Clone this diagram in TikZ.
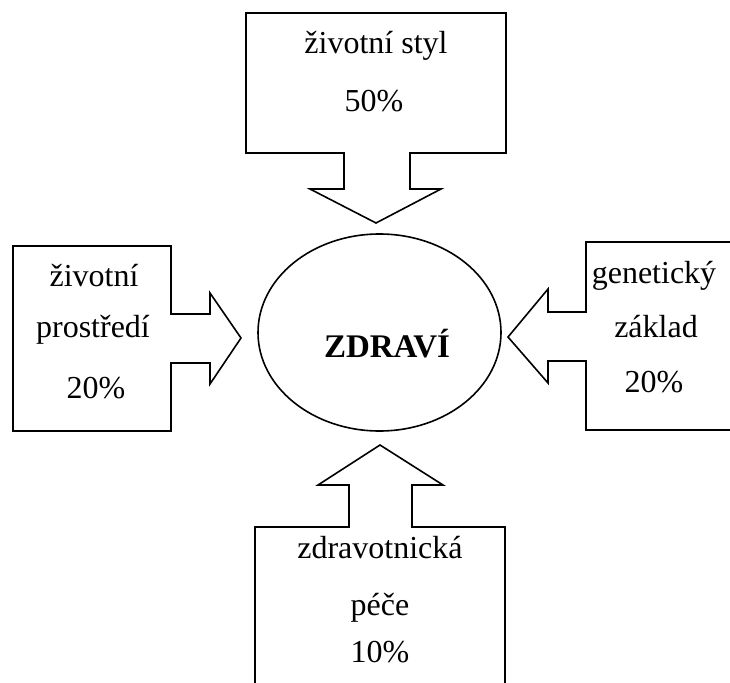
\documentclass[tikz,border=0pt]{standalone}
\usepackage{fontspec}
\setmainfont{Liberation Serif}
\begin{document}
\begin{tikzpicture}[x=1pt,y=-1pt,
  shapeline/.style={draw=black,line width=1.6pt,line join=miter},
  lbl/.style={font=\fontsize{32}{38}\selectfont,anchor=base,inner sep=0pt},
  ttl/.style={font=\fontsize{33}{39}\selectfont\bfseries,anchor=base,inner sep=0pt}]
\useasboundingbox (0,0) rectangle (730,682);
\clip (0,0) rectangle (730,682);
\fill[white] (0,0) rectangle (730,682);
% top callout
\draw[shapeline] (246,13) -- (506,13) -- (506,153) -- (410,153) -- (410,189) -- (441,189) -- (376,223) -- (310,189) -- (344,189) -- (344,153) -- (246,153) -- cycle;
% left callout
\draw[shapeline] (13,246) -- (171,246) -- (171,314) -- (210,314) -- (210,293) -- (241,338) -- (210,384) -- (210,363) -- (171,363) -- (171,431) -- (13,431) -- cycle;
% right callout
\draw[shapeline] (745,242) -- (586,242) -- (586,312) -- (548,312) -- (548,289) -- (508,337) -- (548,383) -- (548,361) -- (586,361) -- (586,430) -- (745,430);
% bottom callout
\draw[shapeline] (255,700) -- (255,527) -- (349,527) -- (349,485) -- (318,485) -- (380,445) -- (443,485) -- (412,485) -- (412,527) -- (505,527) -- (505,700);
% ellipse
\draw[shapeline] (379.5,332.5) ellipse [x radius=121.5, y radius=98.5];
% texts
\node[ttl] (zdravi) at (387,357) {ZDRAVÍ};
\node[lbl] (t1) at (376,54) {životní styl};
\node[lbl] (t2) at (374,111) {50\%};
\node[lbl] (l1) at (94,286) {životní};
\node[lbl] (l2) at (93,337) {prostředí};
\node[lbl] (l3) at (96,398) {20\%};
\node[lbl] (r1) at (654,283) {genetický};
\node[lbl] (r2) at (656,337) {základ};
\node[lbl] (r3) at (654,392) {20\%};
\node[lbl] (b1) at (380,558) {zdravotnická};
\node[lbl] (b2) at (380,615) {péče};
\node[lbl] (b3) at (380,662) {10\%};
\end{tikzpicture}
\end{document}
